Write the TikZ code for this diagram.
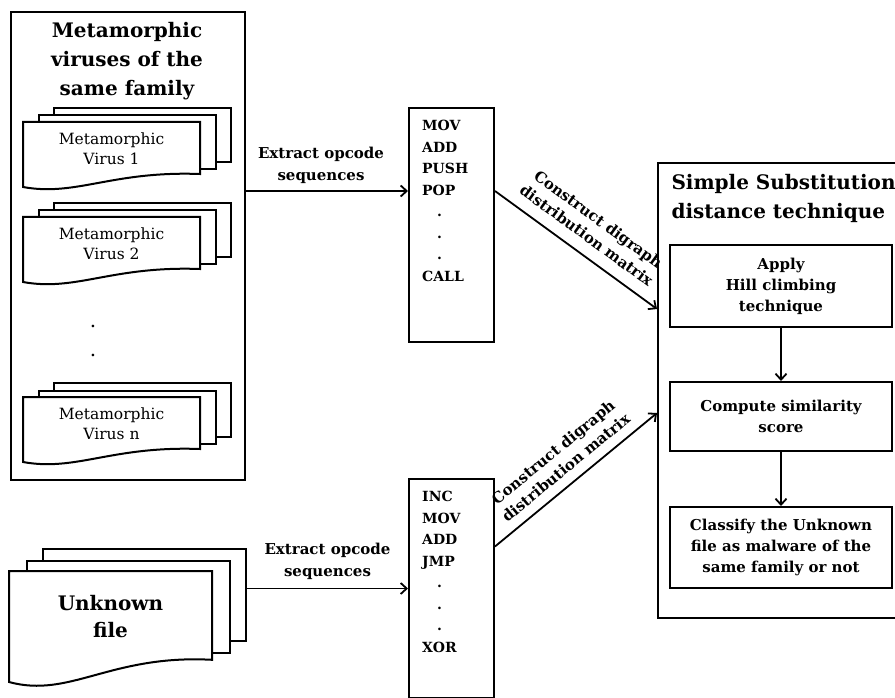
\documentclass[tikz,border=0pt]{standalone}
\usepackage{fontspec}
\setmainfont{DejaVu Serif}
\usetikzlibrary{arrows.meta}
\usetikzlibrary{calc}
% stack of three pages: name, x, y, width, height, dx, dy, text style, text
\newcommand\docstack[9]{%
  \node[page, minimum width=#4, minimum height=0.83*#5, anchor=north west]
    (#1-back) at (#2+2*#6,#3-2*#7) {};
  \node[page, minimum width=#4, minimum height=0.83*#5, anchor=north west]
    (#1-mid) at (#2+#6,#3-#7) {};
  \draw[page] (#2,#3) -- ++(#4,0) -- ++(0,0.8*#5)
    .. controls (#2+0.5*#4,#3+0.75*#5) and (#2+0.3*#4,#3+1.15*#5) .. (#2,#3+#5) -- cycle;
  \node[#8, align=center] (#1) at (#2+0.5*#4,#3+0.41*#5) {#9};
}

\begin{document}
\begin{tikzpicture}[
    x=1pt, y=-1pt,
    box/.style={draw, line width=2pt, fill=white, inner sep=0pt},
    page/.style={draw, line width=2pt, fill=white, inner sep=0pt},
    flow/.style={-{Straight Barb[length=6pt,width=11pt]}, line width=1.8pt},
    headtext/.style={font=\fontsize{20}{29}\selectfont\bfseries},
    pagetext/.style={font=\fontsize{15.5}{20}\selectfont},
    filetext/.style={font=\fontsize{20}{27}\selectfont\bfseries},
    edgetext/.style={font=\fontsize{15}{22}\selectfont\bfseries, align=center},
    slopetext/.style={font=\fontsize{15}{20}\selectfont\bfseries, align=center},
    oplist/.style={font=\fontsize{14}{21.5}\selectfont\bfseries, align=left, inner sep=0pt},
    stepbox/.style={box, minimum width=222, align=center,
      font=\fontsize{15}{21}\selectfont\bfseries}
  ]
    \useasboundingbox (0,0) rectangle (895,698);

    % virus family
    \node[box, minimum width=234, minimum height=468, anchor=north west] (family) at (10,11) {};
    \node[headtext, align=center] (familytitle) at (127,61) {Metamorphic\\viruses of the\\same family};
    \docstack{virus1}{23}{122}{177}{65}{15}{7.5}{pagetext}{Metamorphic\\Virus 1}
    \docstack{virus2}{23}{217}{177}{65}{15}{7.5}{pagetext}{Metamorphic\\Virus 2}
    \node[font=\fontsize{20}{29}\selectfont, align=center] (vdots) at (93,341) {.\\.};
    \docstack{virusn}{23}{397}{177}{65}{15}{7.5}{pagetext}{Metamorphic\\Virus n}

    % unknown file
    \docstack{unknown}{9}{571}{203}{111}{16.5}{11.5}{filetext}{Unknown\\file}

    % opcode sequences
    \node[box, minimum width=85, minimum height=234, anchor=north west] (opA) at (408,107) {};
    \node[oplist, anchor=north west] (opAlist) at (422,120)
      {MOV\\ADD\\PUSH\\POP\\\hspace{15pt}.\\\hspace{15pt}.\\\hspace{15pt}.\\CALL};
    \node[box, minimum width=85, minimum height=219, anchor=north west] (opB) at (408,478) {};
    \node[oplist, anchor=north west] (opBlist) at (422,491)
      {INC\\MOV\\ADD\\JMP\\\hspace{15pt}.\\\hspace{15pt}.\\\hspace{15pt}.\\XOR};

    % simple substitution distance
    \node[box, minimum width=245, minimum height=455, anchor=north west] (subst) at (657,162) {};
    \node[headtext, align=left, anchor=west] (substtitle) at (668,198) {Simple Substitution\\distance technique};
    \node[stepbox, minimum height=82] (hill) at (781,286) {Apply\\Hill climbing\\technique};
    \node[stepbox, minimum height=69] (score) at (781,416.5) {Compute similarity\\score};
    \node[stepbox, minimum height=81] (classify) at (781,547.5) {Classify the Unknown\\file as malware of the\\same family or not};

    \coordinate (inA) at ([yshift=34pt]opA.west);
    \coordinate (hitA) at ([yshift=81.5pt]subst.west);
    \coordinate (hitB) at ([yshift=-22.5pt]subst.west);

    \draw[flow] (family.east |- inA) -- node[edgetext, above=3pt, xshift=-6pt] {Extract opcode\\sequences} (inA);
    \draw[flow] (opB.west -| unknown-back.east) -- node[edgetext, above=5pt] {Extract opcode\\sequences} (opB.west);
    \draw[flow] (opA.east |- inA) -- node[slopetext, sloped, above=8pt] {Construct digraph\\distribution matrix} (hitA);
    \draw[flow] ([yshift=42pt]opB.east) -- node[slopetext, sloped, above=6pt] {Construct digraph\\distribution matrix} (hitB);
    \draw[flow] (hill) -- (score);
    \draw[flow] (score) -- (classify);
  \end{tikzpicture}
\end{document}
